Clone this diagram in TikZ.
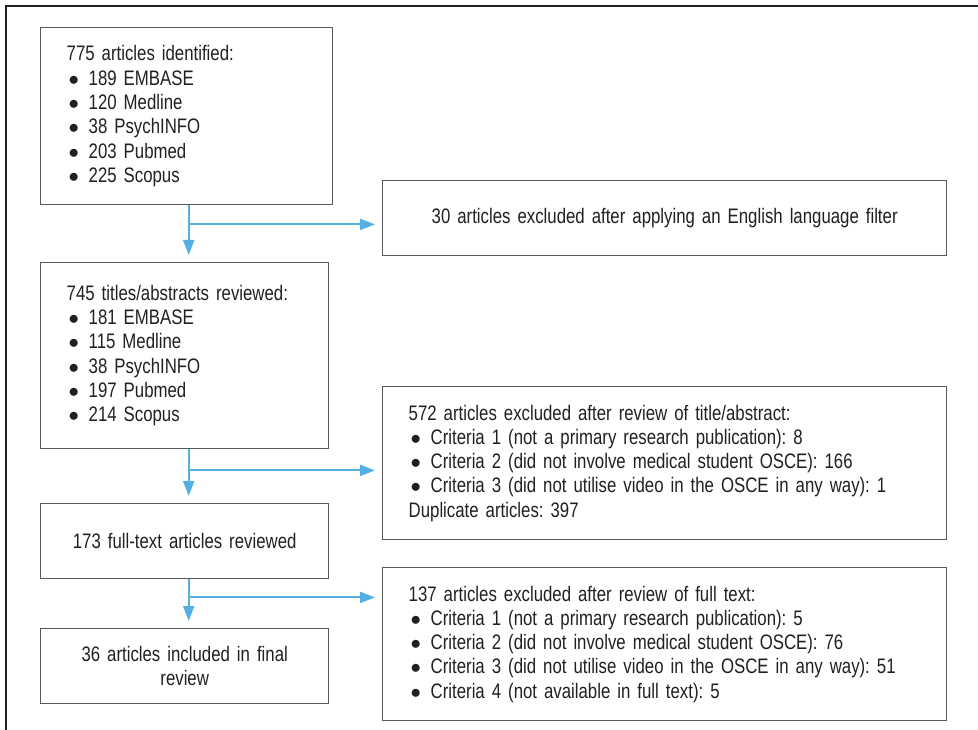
\documentclass[tikz,border=0pt]{standalone}
\usepackage{fontspec}
\setmainfont[FakeStretch=0.80,WordSpace=0.8]{Liberation Sans}
\usepackage{xcolor}
\usepackage{tikz}
\usetikzlibrary{
    arrows.meta,
    calc
}
\definecolor{flowblue}{RGB}{84,175,226}
\definecolor{boxgrey}{RGB}{88,88,88}
\definecolor{inkgrey}{RGB}{35,31,32}
\newcommand{\bitem}[1]{\hspace*{2pt}\makebox[20pt][l]{$\bullet$}#1}
\frenchspacing

\begin{document}
\begin{tikzpicture}[x=1pt,y=-1pt,font=\fontsize{21}{24.3}\selectfont,text=inkgrey]
    \tikzstyle{box}=[draw=boxgrey, line width=1.4pt, anchor=north west, inner xsep=26pt, inner ysep=0pt, align=left]
    \tikzstyle{mid}=[box, inner xsep=8pt, align=center]
    \tikzstyle{flow}=[-{Triangle[length=15pt,width=11pt]}, draw=flowblue, line width=2pt, shorten >=7pt]

    \useasboundingbox (0,0) rectangle (978,730);
    \draw[draw=inkgrey, line width=1.4pt] (6,730) -- (6,6) -- (978,6);

    \node[box, text width=240pt, minimum height=177pt] (ident) at (40,27) {775 articles identified:\\
        \bitem{189 EMBASE}\\ \bitem{120 Medline}\\ \bitem{38 PsychINFO}\\ \bitem{203 Pubmed}\\ \bitem{225 Scopus}};
    \node[mid, text width=548pt, minimum height=75pt] (lang) at (382,180) {30 articles excluded after applying an English language filter};
    \node[box, text width=236pt, minimum height=186pt] (screen) at (40,262) {745 titles/abstracts reviewed:\\
        \bitem{181 EMBASE}\\ \bitem{115 Medline}\\ \bitem{38 PsychINFO}\\ \bitem{197 Pubmed}\\ \bitem{214 Scopus}};
    \node[box, text width=512pt, minimum height=153pt] (exclA) at (382,386) {572 articles excluded after review of title/abstract:\\
        \bitem{Criteria 1 (not a primary research publication): 8}\\
        \bitem{Criteria 2 (did not involve medical student OSCE): 166}\\
        \bitem{Criteria 3 (did not utilise video in the OSCE in any way): 1}\\
        Duplicate articles: 397};
    \node[mid, text width=272pt, minimum height=75pt] (full) at (40,503) {173 full-text articles reviewed};
    \node[box, text width=512pt, minimum height=153pt] (exclB) at (382,567) {137 articles excluded after review of full text:\\
        \bitem{Criteria 1 (not a primary research publication): 5}\\
        \bitem{Criteria 2 (did not involve medical student OSCE): 76}\\
        \bitem{Criteria 3 (did not utilise video in the OSCE in any way): 51}\\
        \bitem{Criteria 4 (not available in full text): 5}};
    \node[mid, text width=272pt, minimum height=75pt] (final) at (40,628) {36 articles included in final\\ review};

    % branch points below each box
    \coordinate (j1) at ($(ident.south)+(2,19)$);
    \coordinate (j2) at ($(screen.south)+(4,21)$);
    \coordinate (j3) at ($(full.south)+(4,18)$);

    \draw[flow] (ident.south -| j1) -- (j1 |- screen.north);
    \draw[flow] (j1) -- (j1 -| lang.west);
    \draw[flow] (screen.south -| j2) -- (j2 |- full.north);
    \draw[flow] (j2) -- (j2 -| exclA.west);
    \draw[flow] (full.south -| j3) -- (j3 |- final.north);
    \draw[flow] (j3) -- (j3 -| exclB.west);
\end{tikzpicture}
\end{document}
